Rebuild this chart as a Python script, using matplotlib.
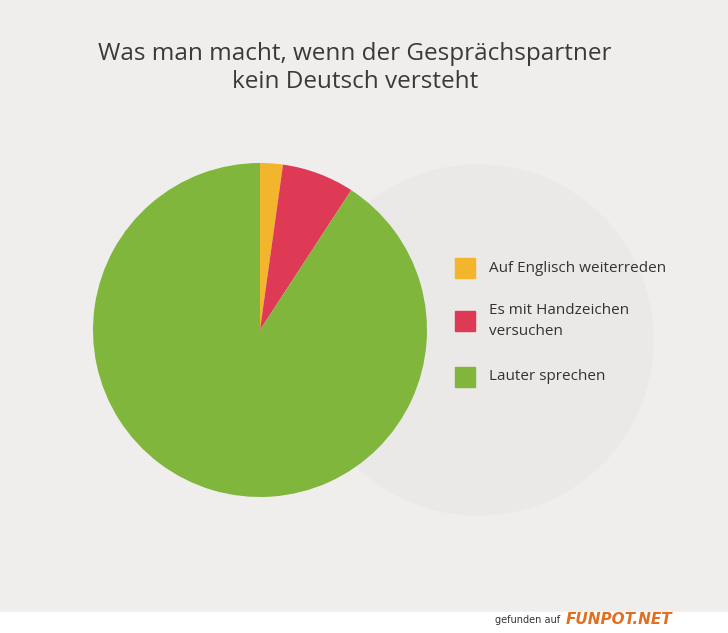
import matplotlib.pyplot as plt
from matplotlib.patches import Circle, Rectangle

labels = ["Auf Englisch weiterreden", "Es mit Handzeichen\nversuchen", "Lauter sprechen"]
values = [2.2, 7.0, 90.8]
colors = ["#f3b52c", "#de3a55", "#80b63c"]
title = "Was man macht, wenn der Gesprächspartner\nkein Deutsch versteht"

W, H = 728, 633
fig = plt.figure(figsize=(W / 100, H / 100), dpi=100)
fig.patch.set_facecolor("#f0eeec")

# faint ghost pie showing through the page
bg = fig.add_axes([0, 0, 1, 1])
bg.set_xlim(0, W)
bg.set_ylim(H, 0)
bg.axis("off")
bg.add_patch(Circle((478, 340), 175, color="#ebe8e8", zorder=0))
bg.add_patch(Rectangle((0, 612), W, 21, color="#ffffff"))
bg.text(560, 620, "gefunden auf", fontsize=7, ha="right", va="center", color="#333333")
bg.text(566, 620, "FUNPOT.NET", fontsize=11, fontweight="bold", ha="left",
        va="center", color="#e07020", style="italic")

bg.text(355, 68, title, ha="center", va="center", fontsize=17.5,
        family="Open Sans", color="#3a3a3a", linespacing=1.25)

ax = fig.add_axes([93 / W, (H - 497) / H, 334 / W, 334 / H])
ax.pie(values, colors=colors, startangle=90, counterclock=False,
       wedgeprops=dict(linewidth=0))
ax.set_xlim(-1, 1)
ax.set_ylim(-1, 1)
ax.set_aspect("equal")

ys = [268, 321, 377]
for lab, c, y in zip(labels, colors, ys):
    bg.add_patch(Rectangle((455, y - 10), 20, 20, color=c))
    bg.text(489, y, lab, fontsize=11, family="Open Sans", va="center",
            color="#333333", linespacing=1.5)

fig.savefig("out.png", dpi=100, facecolor=fig.get_facecolor())
